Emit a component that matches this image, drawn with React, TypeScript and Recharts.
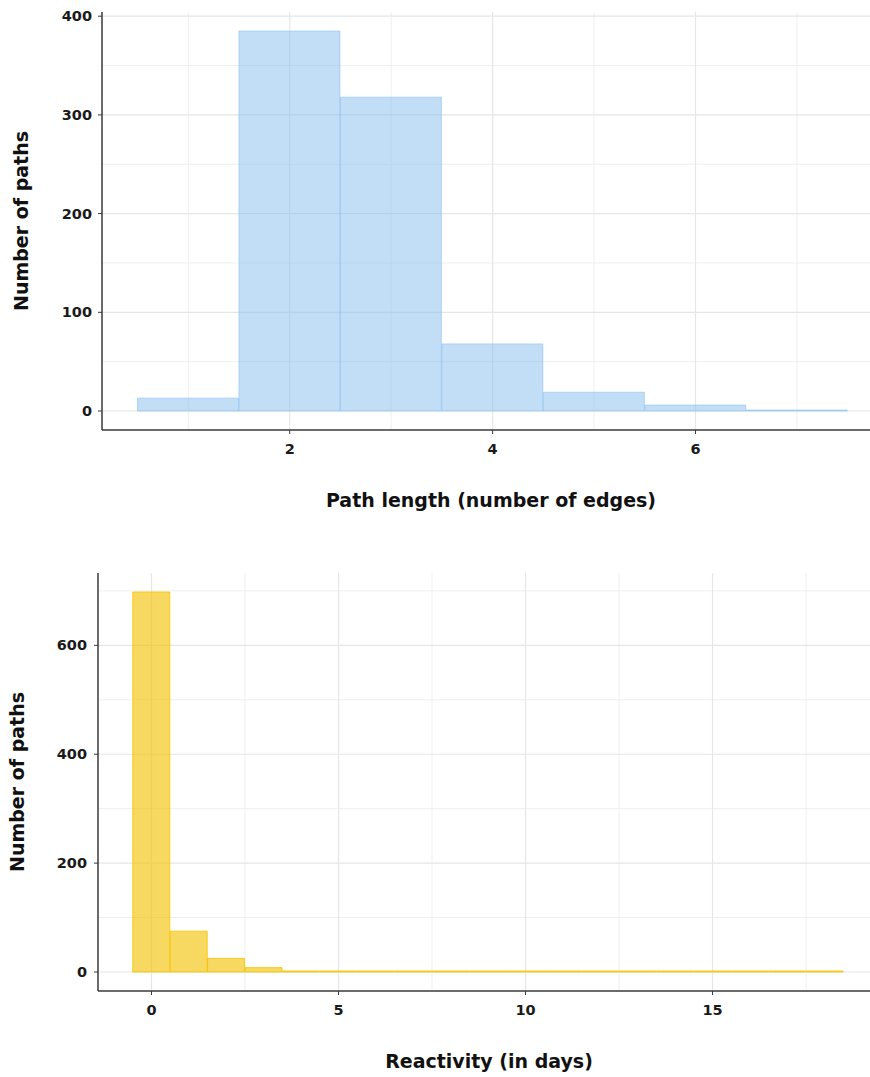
import React from 'react';
import { ComposedChart, Bar, XAxis, YAxis, CartesianGrid, Label } from 'recharts';

// ---- Top chart: path length histogram ----
const pathLengthBins = [1, 2, 3, 4, 5, 6, 7];
const pathLengthCounts = [13, 385, 318, 68, 19, 6, 1];
const pathLengthXTicks = [2, 4, 6];
const pathLengthXMinor = [1, 3, 5, 7];
const topYTicks = [0, 100, 200, 300, 400];
const topYMinor = [50, 150, 250, 350];
const topXDomain = [0.15, 7.72];
const topYDomain = [-19.25, 404.25];

// ---- Bottom chart: reactivity histogram ----
const reactivityBins = [0, 1, 2, 3, 4, 5, 6, 7, 8, 9, 10, 11, 12, 13, 14, 15, 16, 17, 18];
const reactivityCounts = [698, 75, 25, 8, 0, 0, 0, 0, 0, 0, 0, 0, 0, 0, 0, 0, 0, 0, 0];
const reactivityXTicks = [0, 5, 10, 15];
const reactivityXMinor = [2.5, 7.5, 12.5, 17.5];
const bottomYTicks = [0, 200, 400, 600];
const bottomYMinor = [100, 300, 500, 700];
const bottomXDomain = [-1.43, 19.21];
const bottomYDomain = [-34.9, 732.9];

const topData = pathLengthBins.map((b, i) => ({ bin: b, count: pathLengthCounts[i] }));
const bottomData = reactivityBins.map((b, i) => ({ bin: b, count: reactivityCounts[i] }));

const FONT = '"DejaVu Sans", "Liberation Sans", Arial, sans-serif';
const tickStyle = { fill: '#1a1a1a', fontSize: 14.5, fontWeight: 700, fontFamily: FONT };
const AXIS_COLOR = '#3a3a3a';

const makeXTitle = (text: string, dx: number) => (props: any) => {
  const vb = props.viewBox || {};
  const cx = (vb.x || 0) + (vb.width || 0) / 2 + dx;
  return (
    <text x={cx} y={(vb.y || 0) + 77} textAnchor="middle" fill="#111" fontSize={19} fontWeight={700} fontFamily={FONT}>
      {text}
    </text>
  );
};

const makeYTitle = (text: string, cxAbs: number) => (props: any) => {
  const vb = props.viewBox || {};
  const cy = (vb.y || 0) + (vb.height || 0) / 2;
  return (
    <text
      x={cxAbs}
      y={cy}
      transform={`rotate(-90, ${cxAbs}, ${cy})`}
      textAnchor="middle"
      dominantBaseline="central"
      fill="#111"
      fontSize={19}
      fontWeight={700}
      fontFamily={FONT}
    >
      {text}
    </text>
  );
};

export default function App() {
  return (
    <div style={{ position: 'absolute', left: 0, top: 0, width: 870, height: 1077, background: '#fff' }}>
      <div style={{ position: 'absolute', left: 0, top: 0 }}>
        <ComposedChart
          width={870}
          height={540}
          data={topData}
          margin={{ top: 12, right: 0, bottom: 0, left: 0 }}
          barCategoryGap={0}
          barGap={0}
        >
          <CartesianGrid
            horizontalValues={topYMinor}
            verticalValues={pathLengthXMinor}
            stroke="#efefef"
            strokeWidth={1}
          />
          <CartesianGrid
            horizontalValues={topYTicks}
            verticalValues={pathLengthXTicks}
            stroke="#e6e6e6"
            strokeWidth={1.2}
          />
          <XAxis
            xAxisId="top"
            orientation="top"
            dataKey="bin"
            type="number"
            domain={topXDomain}
            allowDataOverflow
            height={0}
            tick={false}
            tickLine={false}
            axisLine={{ stroke: AXIS_COLOR, strokeWidth: 1.5 }}
          />
          <XAxis
            dataKey="bin"
            type="number"
            domain={topXDomain}
            allowDataOverflow
            ticks={pathLengthXTicks}
            height={110}
            tick={tickStyle}
            tickSize={4}
            tickMargin={10}
            tickLine={{ stroke: AXIS_COLOR }}
            axisLine={{ stroke: AXIS_COLOR, strokeWidth: 1.5 }}
          >
            <Label content={makeXTitle('Path length (number of edges)', 5)} />
          </XAxis>
          <YAxis
            type="number"
            domain={topYDomain}
            allowDataOverflow
            ticks={topYTicks}
            width={102}
            tick={tickStyle}
            tickSize={4}
            tickMargin={6}
            tickLine={{ stroke: AXIS_COLOR }}
            axisLine={{ stroke: AXIS_COLOR, strokeWidth: 1.5 }}
          >
            <Label content={makeYTitle('Number of paths', 20.5)} />
          </YAxis>
          <Bar
            dataKey="count"
            fill="#86BDF0"
            fillOpacity={0.5}
            stroke="#86BDF0"
            strokeOpacity={0.55}
            strokeWidth={1}
            minPointSize={1}
            isAnimationActive={false}
          />
        </ComposedChart>
      </div>
      <div style={{ position: 'absolute', left: 0, top: 540 }}>
        <ComposedChart
          width={870}
          height={537}
          data={bottomData}
          margin={{ top: 33, right: 0, bottom: 0, left: 0 }}
          barCategoryGap={0}
          barGap={0}
        >
          <CartesianGrid
            horizontalValues={bottomYMinor}
            verticalValues={reactivityXMinor}
            stroke="#efefef"
            strokeWidth={1}
          />
          <CartesianGrid
            horizontalValues={bottomYTicks}
            verticalValues={reactivityXTicks}
            stroke="#e6e6e6"
            strokeWidth={1.2}
          />
          <XAxis
            xAxisId="top"
            orientation="top"
            dataKey="bin"
            type="number"
            domain={bottomXDomain}
            allowDataOverflow
            height={0}
            tick={false}
            tickLine={false}
            axisLine={{ stroke: AXIS_COLOR, strokeWidth: 1.5 }}
          />
          <XAxis
            dataKey="bin"
            type="number"
            domain={bottomXDomain}
            allowDataOverflow
            ticks={reactivityXTicks}
            height={86}
            tick={tickStyle}
            tickSize={4}
            tickMargin={10}
            tickLine={{ stroke: AXIS_COLOR }}
            axisLine={{ stroke: AXIS_COLOR, strokeWidth: 1.5 }}
          >
            <Label content={makeXTitle('Reactivity (in days)', 5)} />
          </XAxis>
          <YAxis
            type="number"
            domain={bottomYDomain}
            allowDataOverflow
            ticks={bottomYTicks}
            width={98}
            tick={tickStyle}
            tickSize={4}
            tickMargin={7}
            tickLine={{ stroke: AXIS_COLOR }}
            axisLine={{ stroke: AXIS_COLOR, strokeWidth: 1.5 }}
          >
            <Label content={makeYTitle('Number of paths', 16.7)} />
          </YAxis>
          <Bar
            dataKey="count"
            fill="#F2C200"
            fillOpacity={0.62}
            stroke="#F5C400"
            strokeOpacity={0.85}
            strokeWidth={1}
            minPointSize={1}
            isAnimationActive={false}
          />
        </ComposedChart>
      </div>
    </div>
  );
}
